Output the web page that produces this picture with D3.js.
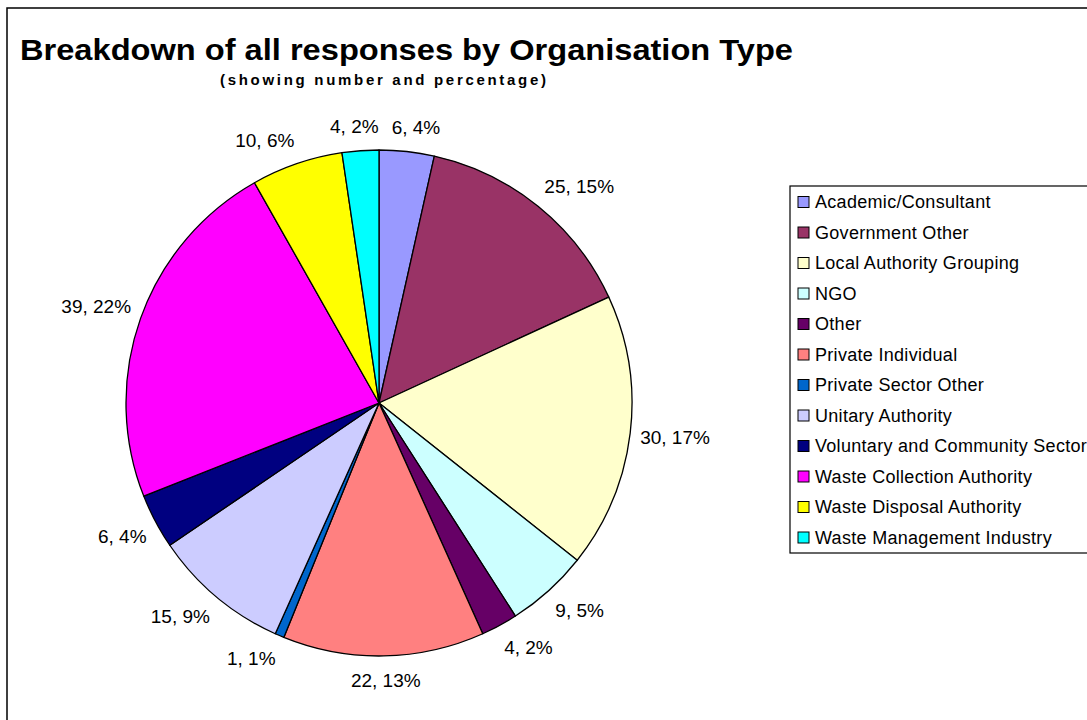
<!DOCTYPE html>
<html>
<head>
<meta charset="utf-8">
<script src="https://cdn.jsdelivr.net/npm/d3@7"></script>
<style>
    body { margin: 0; background: #fff; }
    svg text { font-family: "Liberation Sans", Arial, sans-serif; fill: #000; }
</style>
</head>
<body>
<svg id="chart" width="1087" height="720"></svg>
<script>
// data
let categories = ["Academic/Consultant", "Government Other", "Local Authority Grouping", "NGO", "Other",
    "Private Individual", "Private Sector Other", "Unitary Authority", "Voluntary and Community Sector",
    "Waste Collection Authority", "Waste Disposal Authority", "Waste Management Industry"];
let counts = [6, 25, 30, 9, 4, 22, 1, 15, 6, 39, 10, 4];
let percents = [4, 15, 17, 5, 2, 13, 1, 9, 4, 22, 6, 2];
let colors = ["#9999FF", "#993366", "#FFFFCC", "#CCFFFF", "#660066", "#FF8080",
    "#0066CC", "#CCCCFF", "#000080", "#FF00FF", "#FFFF00", "#00FFFF"];

let WIDTH = 1087,
    HEIGHT = 720,
    CX = 379,
    CY = 403,
    RADIUS = 253;

let svg = d3.select("#chart");

// chart area frame (runs off the right and bottom of the window)
svg.append("rect")
    .attr("x", 7).attr("y", 8)
    .attr("width", WIDTH + 20).attr("height", HEIGHT + 20)
    .attr("fill", "#fff")
    .attr("stroke", "#000")
    .attr("stroke-width", 1.5);

svg.append("text")
    .attr("x", 20).attr("y", 60)
    .attr("font-size", 30).attr("font-weight", "bold")
    .attr("textLength", 773).attr("lengthAdjust", "spacingAndGlyphs")
    .text("Breakdown of all responses by Organisation Type");

svg.append("text")
    .attr("x", 220).attr("y", 85)
    .attr("font-size", 15).attr("font-weight", "bold")
    .attr("textLength", 326).attr("lengthAdjust", "spacing")
    .text("(showing number and percentage)");

let data = counts.map((c, i) => ({name: categories[i], value: c, pct: percents[i], color: colors[i]}));

let pie = d3.pie().sort(null).value(d => d.value);
let arc = d3.arc().innerRadius(0).outerRadius(RADIUS);
let arcs = pie(data);

let g = svg.append("g").attr("transform", "translate(" + CX + "," + CY + ")");

g.selectAll("path.slice")
    .data(arcs)
    .enter()
    .append("path")
    .attr("class", "slice")
    .attr("d", arc)
    .attr("fill", d => d.data.color)
    .attr("stroke", "#000")
    .attr("stroke-width", 1.3)
    .attr("stroke-linejoin", "round");

// data labels sit just outside the rim, pushed out by half their box
let clamp = v => Math.max(-1, Math.min(1, v));
g.selectAll("text.lbl")
    .data(arcs)
    .enter()
    .append("text")
    .attr("class", "lbl")
    .attr("font-size", 19)
    .attr("text-anchor", "middle")
    .attr("dy", "0.35em")
    .text(d => d.data.value + ", " + d.data.pct + "%")
    .each(function (d) {
        let a = (d.startAngle + d.endAngle) / 2,
            s = Math.sin(a),
            c = Math.cos(a),
            w = this.getComputedTextLength();
        let x = (RADIUS + 10) * s + (w / 2) * clamp(3 * s),
            y = -(RADIUS + 17) * c - 7 * clamp(3 * c);
        d3.select(this).attr("x", x).attr("y", y);
    });

// legend
let LEG = {x: 790, y: 186, rowH: 30.5, first: 16};
let legend = svg.append("g");
legend.append("rect")
    .attr("x", LEG.x).attr("y", LEG.y)
    .attr("width", 320).attr("height", 367)
    .attr("fill", "#fff")
    .attr("stroke", "#000")
    .attr("stroke-width", 1.2);

let items = legend.selectAll("g.item")
    .data(data)
    .enter()
    .append("g")
    .attr("class", "item")
    .attr("transform", (d, i) => "translate(" + LEG.x + "," + (LEG.y + LEG.first + i * LEG.rowH) + ")");

items.append("rect")
    .attr("x", 8).attr("y", -5.5)
    .attr("width", 11).attr("height", 11)
    .attr("fill", d => d.color)
    .attr("stroke", "#000")
    .attr("stroke-width", 1);

items.append("text")
    .attr("x", 25)
    .attr("dy", "0.35em")
    .attr("font-size", 18)
    .attr("letter-spacing", 0.3)
    .text(d => d.name);
</script>
</body>
</html>
